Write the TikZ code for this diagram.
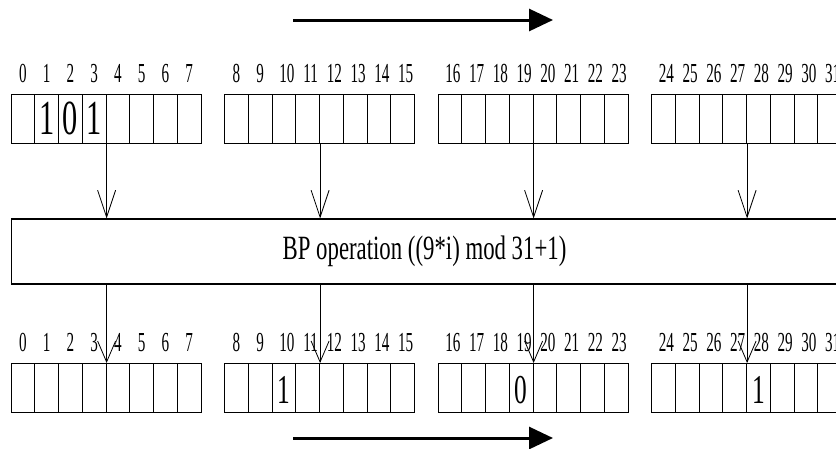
\documentclass[tikz,border=0pt]{standalone}
\usepackage{fontspec}
\setmainfont{Liberation Serif}
\newfontfamily\idxfont[FakeStretch=0.55]{Liberation Serif}
\newfontfamily\bitfont[FakeStretch=0.62]{Liberation Serif}
\newfontfamily\opfont[FakeStretch=0.67]{Liberation Serif}
\usetikzlibrary{arrows.meta}

\begin{document}
\begin{tikzpicture}[x=1pt,y=-1pt,
    cell/.style={draw,line width=1.1pt,minimum width=23.75pt,minimum height=48.5pt,
      inner sep=0pt,anchor=north west},
    idx/.style={font=\idxfont\fontsize{27.5}{27.5}\selectfont,inner sep=0pt,label distance=11pt},
    topbit/.style={font=\bitfont\fontsize{49}{49}\selectfont,inner sep=0pt},
    lowbit/.style={font=\bitfont\fontsize{41}{41}\selectfont,inner sep=0pt,anchor=base},
    opbox/.style={draw,line width=1.1pt,minimum width=826pt,minimum height=65pt,
      font=\opfont\fontsize{34}{34}\selectfont},
    feed/.style={line width=0.8pt,-{Straight Barb[length=27pt,width=18pt]}},
    feedlow/.style={line width=0.8pt,-{Straight Barb[length=21pt,width=18pt]}},
    flow/.style={line width=3pt,-{Triangle[length=24pt,width=22pt]}}]
    \useasboundingbox (0,0) rectangle (836,448);
    \clip (0,0) rectangle (836,448);
    \foreach \g in {0,...,3}
      \foreach \c in {0,...,7} {
        \pgfmathtruncatemacro\n{8*\g+\c}
        \pgfmathtruncatemacro\s{\n>9 ? 3 : 0}
        \node[cell,label={[idx,xshift=\s pt]above:\n}] (t\n) at (10.5+213.5*\g+23.75*\c,94) {};
        \node[cell,label={[idx,xshift=\s pt]above:\n}] (b\n) at (10.5+213.5*\g+23.75*\c,363) {};
      }
    \foreach \n/\v in {1/1,2/0,3/1}
      \node[topbit] at (t\n) {\v};
    \foreach \n/\v in {10/1,19/0,28/1}
      \node[lowbit,yshift=9pt] at (b\n.south) {\v};
    \node[opbox] (bp) at (424.5,251.5) {BP operation ((9*i) mod 31+1)};
    \foreach \k in {3,11,19,27} {
      \draw[feed] (t\k.south east) -- (t\k.south east |- bp.north);
      \draw[feedlow] (bp.south -| b\k.north east) -- (b\k.north east);
    }
    \coordinate (upL) at (293,20);
    \coordinate (upR) at (553,20);
    \coordinate (downL) at (293,438);
    \coordinate (downR) at (553,438);
    \draw[flow] (upL) -- (upR);
    \draw[flow] (downL) -- (downR);
\end{tikzpicture}
\end{document}
